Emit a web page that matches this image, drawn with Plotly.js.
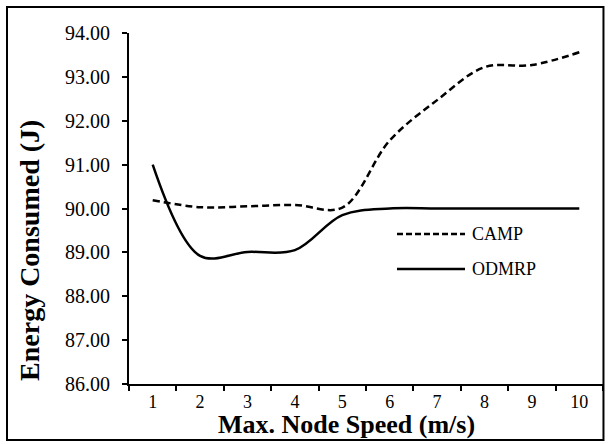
<!DOCTYPE html>
<html><head><meta charset="utf-8">
<script src="https://cdn.plot.ly/plotly-3.0.1.min.js"></script>
<style>html,body{margin:0;padding:0;background:#fff}</style>
</head><body>
<div id="chart" style="width:608px;height:444px"></div>
<script>
const speeds = ['1','2','3','4','5','6','7','8','9','10'];
const camp  = [90.19, 90.03, 90.05, 90.08, 90.02, 91.55, 92.47, 93.22, 93.27, 93.56];
const odmrp = [91.00, 88.92, 89.01, 89.05, 89.85, 90.00, 90.00, 90.00, 90.00, 90.00];
const seriesNames = ['CAMP', 'ODMRP'];
const yTicks = [86, 87, 88, 89, 90, 91, 92, 93, 94];
const yTickText = yTicks.map(v => v.toFixed(2));
const xTitle = 'Max. Node Speed (m/s)';
const yTitle = 'Energy Consumed (J)';

const fam = 'Liberation Serif, Times New Roman, serif';
const f = (size) => ({family: fam, size: size, color: '#000'});

const traces = [
  {x: speeds, y: camp, name: seriesNames[0], type: 'scatter', mode: 'lines',
   line: {color: '#000', width: 2.5, dash: '7px,4px', shape: 'spline', smoothing: 1}},
  {x: speeds, y: odmrp, name: seriesNames[1], type: 'scatter', mode: 'lines',
   line: {color: '#000', width: 2.5, shape: 'spline', smoothing: 1}}
];

// custom legend (long sample lines like the reference)
const legX0 = 0.5654, legX1 = 0.7089, legTextX = 0.7194;
const legY = [0.4274, 0.3276];

const layout = {
  width: 608, height: 444,
  margin: {l: 129, r: 5, t: 33, b: 60},
  paper_bgcolor: '#fff', plot_bgcolor: '#fff',
  font: f(18),
  showlegend: false,
  xaxis: {type: 'category', tickson: 'boundaries', range: [-0.5, 9.5], showline: true, linecolor: '#000', linewidth: 2,
          ticks: 'outside', ticklen: 5, tickwidth: 2, tickcolor: '#000', showgrid: false, zeroline: false,
          tickfont: f(18)},
  yaxis: {range: [86, 94], tickvals: yTicks, ticktext: yTickText, showline: true, linecolor: '#000', linewidth: 2,
          ticks: 'outside', ticklen: 5, tickwidth: 2, tickcolor: '#000', showgrid: false, zeroline: false,
          ticklabelstandoff: 8,
          tickfont: f(20)},
  shapes: [
    {type: 'rect', xref: 'paper', yref: 'paper', layer: 'below',
     x0: -122/474, x1: 1.001, y0: -56/351, y1: 1 + 26/351, line: {color: '#000', width: 2}},
    {type: 'line', xref: 'paper', yref: 'paper', x0: legX0, x1: legX1, y0: legY[0], y1: legY[0],
     line: {color: '#000', width: 2.5, dash: '6px,3px'}},
    {type: 'line', xref: 'paper', yref: 'paper', x0: legX0, x1: legX1, y0: legY[1], y1: legY[1],
     line: {color: '#000', width: 2.5}}
  ],
  annotations: seriesNames.map((n, i) => ({
    text: n, xref: 'paper', yref: 'paper', x: legTextX, y: legY[i], xanchor: 'left', yanchor: 'middle',
    showarrow: false, font: f(18)
  })).concat([
    {text: '<b>' + xTitle + '</b>', xref: 'paper', yref: 'paper', x: 0.458, y: -0.1168,
     xanchor: 'center', yanchor: 'middle', showarrow: false, font: f(26)},
    {text: '<b>' + yTitle + '</b>', xref: 'paper', yref: 'paper', x: -0.2089, y: 0.3818, textangle: -90,
     xanchor: 'center', yanchor: 'middle', showarrow: false, font: f(28)}
  ])
};

Plotly.newPlot('chart', traces, layout, {staticPlot: true});
</script>
</body></html>
